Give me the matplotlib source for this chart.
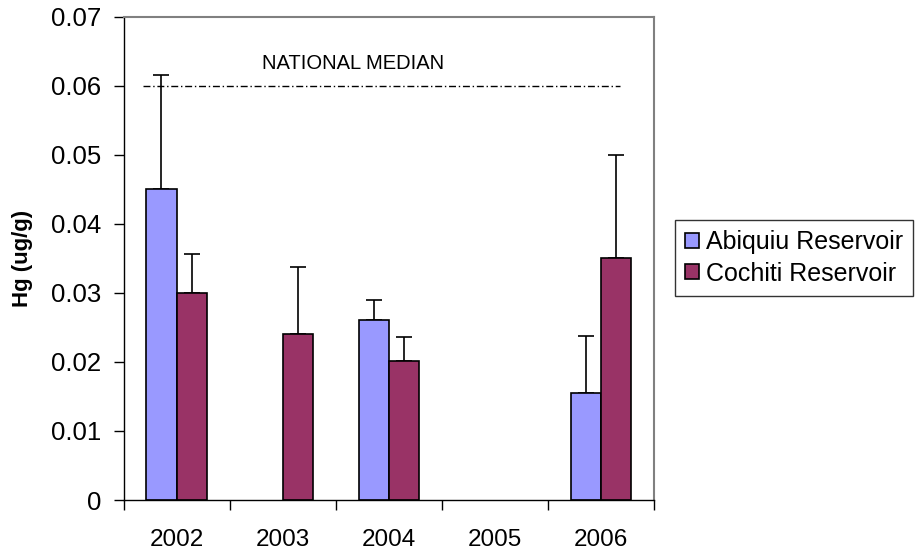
#!/usr/bin/env python
"""Hg in fish tissue, Abiquiu vs Cochiti reservoirs (out.png)."""

import matplotlib

matplotlib.use("Agg")
import matplotlib.pyplot as plt
import numpy as np

plt.rcParams["font.family"] = ["Liberation Sans", "DejaVu Sans"]

# data
years = ["2002", "2003", "2004", "2005", "2006"]
abiquiu = [0.045, np.nan, 0.026, np.nan, 0.0155]
abiquiu_err = [0.0165, np.nan, 0.003, np.nan, 0.0083]
cochiti = [0.030, 0.024, 0.0202, np.nan, 0.0351]
cochiti_err = [0.0056, 0.0098, 0.0034, np.nan, 0.0149]
NATIONAL_MEDIAN = 0.06

W, H = 915, 554
fig = plt.figure(figsize=(W / 100, H / 100), dpi=100, facecolor="white")
ax = fig.add_axes([123.5 / W, 54 / H, (654 - 123.5) / W, (500 - 16.7) / H])

x = np.arange(len(years))
bw = 0.285
colors = {"Abiquiu Reservoir": "#9999FF", "Cochiti Reservoir": "#993366"}
err_kw = dict(ecolor="black", elinewidth=1.2, capsize=5.5, capthick=1.2)

ax.bar(x - bw / 2, abiquiu, bw, color=colors["Abiquiu Reservoir"], edgecolor="black",
       linewidth=1.2, label="Abiquiu Reservoir", zorder=2)
ax.errorbar(x - bw / 2, abiquiu, yerr=[np.zeros(len(x)), abiquiu_err], fmt="none",
            zorder=1, **err_kw)
ax.bar(x + bw / 2, cochiti, bw, color=colors["Cochiti Reservoir"], edgecolor="black",
       linewidth=1.2, label="Cochiti Reservoir", zorder=2)
ax.errorbar(x + bw / 2, cochiti, yerr=[np.zeros(len(x)), cochiti_err], fmt="none",
            zorder=1, **err_kw)

# national median reference line
ln = ax.hlines(NATIONAL_MEDIAN, -0.32, 4.18, color="black", linewidth=1.0, zorder=3)
ln.set_dashes([(0, (5, 2, 1, 2))])
ax.text(1.66, 0.0624, "NATIONAL MEDIAN", ha="center", va="baseline", fontsize=14.5)

ax.set_xlim(-0.5, len(years) - 0.5)
ax.set_ylim(0, 0.07)
ax.set_yticks(np.arange(0, 0.071, 0.01))
ax.set_yticklabels(["0"] + [f"{v:.2f}" for v in np.arange(0.01, 0.071, 0.01)])
ax.tick_params(axis="y", direction="out", length=7, width=1, pad=9, labelsize=18.5)

# ticks between categories, labels at centres
ax.set_xticks(np.arange(-0.5, len(years)), minor=False)
ax.set_xticklabels([""] * (len(years) + 1))
ax.set_xticks(x, minor=True)
ax.set_xticklabels(years, minor=True)
ax.tick_params(axis="x", which="major", direction="out", length=7, width=1)
ax.tick_params(axis="x", which="minor", length=0, pad=21, labelsize=17.5)

ax.set_ylabel("Hg (ug/g)", fontsize=16, fontweight="bold", labelpad=13)

for side in ["left", "bottom"]:
    ax.spines[side].set_color("black")
    ax.spines[side].set_linewidth(1.0)
for side in ["top", "right"]:
    ax.spines[side].set_color("#808080")
    ax.spines[side].set_linewidth(1.5)

fig.legend(loc="center left", bbox_to_anchor=(675 / W, 1 - 258 / H), fontsize=18,
           frameon=True, fancybox=False, edgecolor="#333333", framealpha=1,
           handlelength=0.55, handleheight=0.55, handletextpad=0.3,
           borderpad=0.4, labelspacing=0.3, borderaxespad=0)

fig.savefig("out.png", dpi=100, facecolor="white")
plt.close(fig)
